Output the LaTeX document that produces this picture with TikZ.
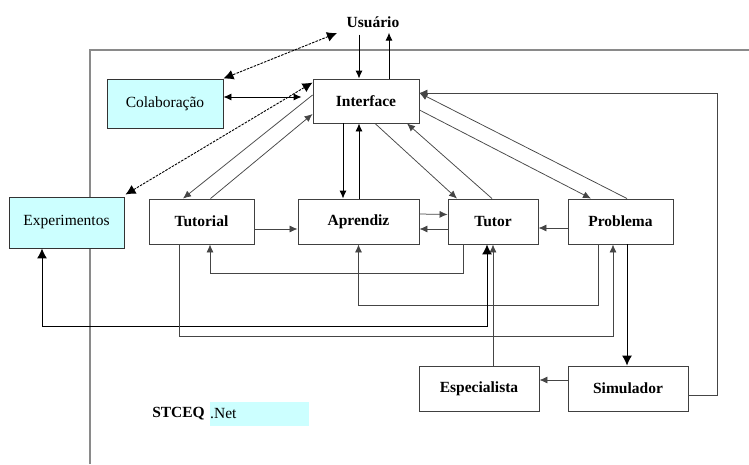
\documentclass[tikz,border=0pt]{standalone}
\usepackage{fontspec}
\setmainfont{Liberation Serif}
\usetikzlibrary{arrows.meta,calc}
\definecolor{cyanfill}{HTML}{CCFFFF}
\definecolor{framegray}{HTML}{8A8A8A}
\definecolor{linegray}{HTML}{454545}
\newcommand\myreg{\fontsize{15.5}{18}\selectfont}
\newcommand\mybold{\fontsize{15.5}{18}\selectfont\bfseries}
\tikzset{
  box/.style={draw=black!75, line width=0.9pt, fill=white, minimum height=45pt, inner sep=0pt, font=\mybold},
  cbox/.style={draw=black!80, line width=0.9pt, fill=cyanfill, inner sep=0pt, font=\myreg},
  tipS/.tip={Latex[length=8pt,width=7pt]},
  tipB/.tip={Latex[length=10pt,width=10pt]},
  con/.style={draw=linegray, line width=0.75pt, -tipS},
  bcon/.style={draw=black, line width=0.9pt, -tipS},
  dcon/.style={draw=black, line width=0.9pt, dash pattern=on 2.5pt off 1.2pt, tipB-tipB},
  frame/.style={draw=framegray, line width=1.4pt}
}
\begin{document}
\begin{tikzpicture}[x=1pt,y=-1pt]
\useasboundingbox (0,0) rectangle (749,464);
% outer frame
\draw[frame] (90,464) -- (90,50) -- (749,50);
% nodes
\node[font=\mybold, inner sep=1pt] (Usuario) at (373,22) {Usuário};
\node[box, minimum width=106pt, minimum height=44pt] (Interface) at (366,101) {Interface};
\node[cbox, minimum width=116pt, minimum height=49pt] (Colaboracao) at (165,103.5) {Colaboração};
\node[cbox, minimum width=115pt, minimum height=51pt] (Experimentos) at (66.5,222.5) {Experimentos};
\node[box, minimum width=105pt] (Tutorial) at (201.5,221.5) {Tutorial};
\node[box, minimum width=121pt] (Aprendiz) at (358.5,221.5) {Aprendiz};
\node[box, minimum width=90pt] (Tutor) at (493,221.5) {Tutor};
\node[box, minimum width=105pt] (Problema) at (620.5,221.5) {Problema};
\node[box, minimum width=120pt] (Especialista) at (479,388.5) {Especialista};
\node[box, minimum width=120pt] (Simulador) at (628,388.5) {Simulador};
\node[fill=cyanfill, anchor=west, inner xsep=0pt, inner ysep=0pt, minimum height=24pt, text width=99pt, align=left, font=\myreg] (Net) at (210,414) {.Net};
\node[anchor=east, inner sep=0pt, font=\mybold] (Stceq) at ([xshift=-5pt]Net.west) {STCEQ};
% Usuario links
\draw[bcon] ([xshift=-7pt]Interface.north |- Usuario.south) ++(0,6) -- ([xshift=-7pt]Interface.north);
\draw[bcon] ([xshift=23pt]Interface.north) -- ([xshift=23pt,yshift=-4pt]Interface.north |- Usuario.south);
\draw[dcon] ([xshift=-36pt,yshift=-11pt]Usuario.center) -- (Colaboracao.north east);
% Colaboracao <-> Interface
\draw[bcon, tipS-tipS] ([yshift=6.5pt]Colaboracao.east) -- ([xshift=-11pt,yshift=4pt]Interface.west);
% Experimentos <-> Interface
\draw[dcon] ([xshift=1pt,yshift=2pt]Experimentos.north east) -- ([yshift=-4pt]Interface.north west);
% Interface <-> Tutorial
\draw[con] ([yshift=6pt]Interface.west) -- ([xshift=-18.5pt]Tutorial.north);
\draw[con] ([xshift=9pt]Tutorial.north) -- ([yshift=-13pt]Interface.west);
% Interface <-> Aprendiz
\draw[bcon] ([xshift=-23pt]Interface.south) -- ([xshift=-23pt]Interface.south |- Aprendiz.north);
\draw[bcon] ([xshift=-7pt]Interface.south |- Aprendiz.north) -- ([xshift=-7pt]Interface.south);
% Interface <-> Tutor
\draw[con] ([xshift=9pt]Interface.south) -- ([xshift=-36pt]Tutor.north);
\draw[con] ([xshift=-1pt]Tutor.north) -- ([xshift=41pt]Interface.south);
% Interface <-> Problema
\draw[con] ([yshift=-9pt]Interface.east) -- ([xshift=-29.5pt]Problema.north);
\draw[con] ([xshift=6.5pt]Problema.north) -- ([yshift=8pt]Interface.east);
% Simulador -> Interface
\draw[con] ([yshift=-6.5pt]Simulador.east) -- ++(29,0) |- ([yshift=8pt]Interface.east);
% horizontal links in row
\draw[con] ([yshift=-7.5pt]Tutorial.east) -- ([yshift=-7.5pt]Aprendiz.west);
\draw[con] ([yshift=7.5pt]Aprendiz.east) -- ([yshift=7pt]Tutor.west);
\draw[con] ([yshift=-7.5pt]Tutor.west) -- ([yshift=-7.5pt]Aprendiz.east);
\draw[con] ([yshift=-6.5pt]Problema.west) -- ([yshift=-6.5pt]Tutor.east);
% lower routed links
\draw[con] ([xshift=-30pt]Tutor.south) -- ++(0,29) -| ([xshift=8.5pt]Tutorial.south);
\draw[con] ([xshift=-22.5pt]Problema.south) -- ++(0,61) -| (Aprendiz.south);
\draw[draw=black, line width=1pt, tipB-tipB] ([xshift=-6pt]Tutor.south) -- ++(0,82) -| ([xshift=-24.5pt]Experimentos.south);
\draw[con] ([xshift=-22.5pt]Tutorial.south) -- ++(0,92) -| ([xshift=-7.5pt]Problema.south);
\draw[draw=black, line width=1pt, -tipB] ([xshift=6.5pt]Problema.south) -- ([xshift=-1pt]Simulador.north);
\draw[con] ([yshift=8.5pt]Simulador.west) -- ([yshift=8.5pt]Especialista.east);
\draw[con] ([xshift=14pt]Especialista.north) -- (Tutor.south);
\end{tikzpicture}
\end{document}
